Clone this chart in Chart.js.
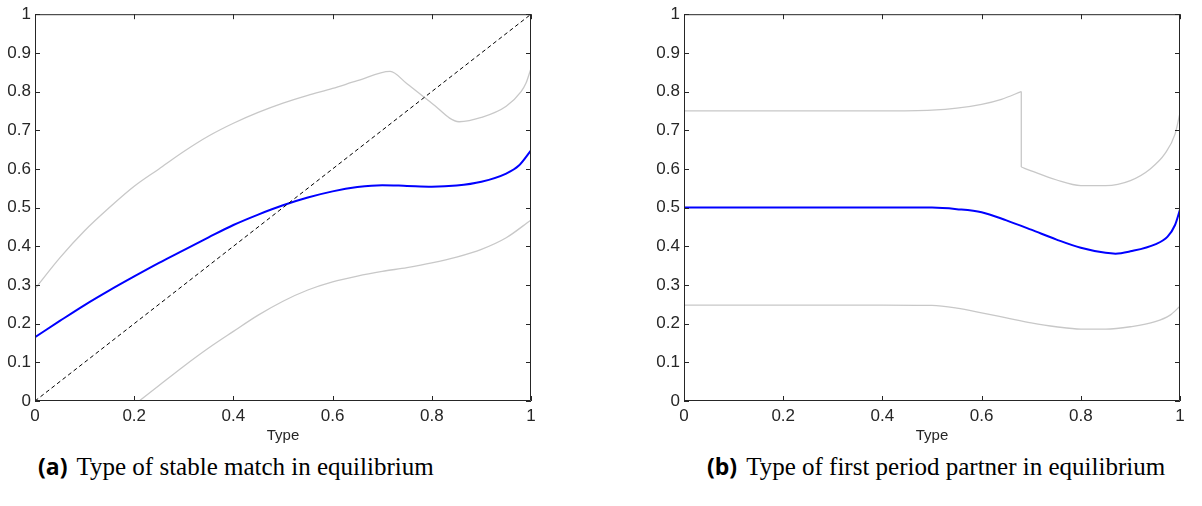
<!DOCTYPE html>
<html>
<head>
<meta charset="utf-8">
<script src="https://cdn.jsdelivr.net/npm/chart.js@4.4.1/dist/chart.umd.min.js"></script>
<style>
  body { margin: 0; background: #fff; width: 1202px; height: 506px; overflow: hidden; position: relative; }
  .panel { position: absolute; top: 0; }
  .cap { position: absolute; top: 450px; white-space: nowrap; color: #000;
         font-family: "Liberation Serif", "DejaVu Serif", serif; font-size: 25px; }
  .cap b { font-family: "Open Sans", "Noto Sans", sans-serif; font-weight: 700; font-size: 23px; margin-right: 9px; }
</style>
</head>
<body>
<canvas id="chartA" class="panel" style="left:0px" width="560" height="445"></canvas>
<canvas id="chartB" class="panel" style="left:649px" width="560" height="445"></canvas>
<div class="cap" style="left:38px"><b>(a)</b>Type of stable match in equilibrium</div>
<div class="cap" style="left:707px"><b>(b)</b>Type of first period partner in equilibrium</div>
<script>
/* ============ DATOS: (a) tipo de pareja estable ============ */
const stableMeanX = [0, 0.05, 0.1, 0.15, 0.2, 0.25, 0.3, 0.35, 0.4, 0.45, 0.5, 0.55, 0.6, 0.65, 0.7, 0.75, 0.8, 0.85, 0.9, 0.95, 0.975, 1];
const stableMeanY = [0.165, 0.207, 0.248, 0.286, 0.322, 0.357, 0.39, 0.423, 0.455, 0.482, 0.506, 0.526, 0.542, 0.553, 0.558, 0.556, 0.554, 0.557, 0.567, 0.588, 0.608, 0.648];

const stableUpperX = [0, 0.05, 0.1, 0.15, 0.2, 0.25, 0.3, 0.35, 0.4, 0.45, 0.5, 0.55, 0.6, 0.65, 0.716, 0.75, 0.8, 0.855, 0.9, 0.95, 0.98, 0.99, 1];
const stableUpperY = [0.29, 0.37, 0.44, 0.5, 0.555, 0.6, 0.645, 0.685, 0.718, 0.746, 0.77, 0.79, 0.808, 0.828, 0.852, 0.82, 0.77, 0.722, 0.733, 0.762, 0.8, 0.822, 0.86];

const stableLowerX = [0.21, 0.25, 0.3, 0.35, 0.4, 0.45, 0.5, 0.55, 0.6, 0.65, 0.7, 0.75, 0.8, 0.85, 0.9, 0.95, 1];
const stableLowerY = [0, 0.04, 0.09, 0.137, 0.18, 0.222, 0.258, 0.287, 0.308, 0.323, 0.335, 0.345, 0.357, 0.372, 0.392, 0.422, 0.468];

const diagonalX = [0, 1];
const diagonalY = [0, 1];

/* ============ DATOS: (b) pareja del primer periodo ============ */
const firstMeanX = [0, 0.1, 0.2, 0.3, 0.4, 0.5, 0.55, 0.6, 0.65, 0.7, 0.75, 0.8, 0.85, 0.87, 0.9, 0.95, 0.975, 0.99, 1];
const firstMeanY = [0.5, 0.5, 0.5, 0.5, 0.5, 0.5, 0.496, 0.488, 0.467, 0.443, 0.418, 0.396, 0.383, 0.381, 0.387, 0.405, 0.425, 0.455, 0.495];

const firstUpperX1 = [0, 0.1, 0.2, 0.3, 0.4, 0.5, 0.55, 0.6, 0.64, 0.68];
const firstUpperY1 = [0.75, 0.75, 0.75, 0.75, 0.75, 0.752, 0.757, 0.767, 0.78, 0.8];
const firstDropX = [0.68, 0.68];
const firstDropY = [0.8, 0.605];
const firstUpperX2 = [0.68, 0.7, 0.75, 0.8, 0.85, 0.9, 0.94, 0.97, 0.99, 1];
const firstUpperY2 = [0.605, 0.595, 0.572, 0.557, 0.557, 0.57, 0.6, 0.64, 0.69, 0.745];

const firstLowerX = [0, 0.1, 0.2, 0.3, 0.4, 0.5, 0.55, 0.6, 0.65, 0.7, 0.75, 0.8, 0.85, 0.9, 0.95, 0.98, 1];
const firstLowerY = [0.248, 0.248, 0.248, 0.248, 0.248, 0.247, 0.24, 0.228, 0.215, 0.202, 0.192, 0.186, 0.186, 0.192, 0.205, 0.222, 0.245];

/* ============ TICKS ============ */
const xTicks = [0, 0.2, 0.4, 0.6, 0.8, 1];
const yTicks = [0, 0.1, 0.2, 0.3, 0.4, 0.5, 0.6, 0.7, 0.8, 0.9, 1];

const AXIS = "#262626";
const BLUE = "#0000ff";
const GRAY = "#c8c8c8";

function pares(xs, ys) {
  return xs.map((x, i) => ({ x: x, y: ys[i] }));
}

function serie(xs, ys, color, width, extra) {
  return Object.assign({
    data: pares(xs, ys),
    borderColor: color,
    borderWidth: width,
    pointRadius: 0,
    fill: false,
    cubicInterpolationMode: "monotone"
  }, extra || {});
}

/* caja con marcas hacia dentro, como en MATLAB */
const cajaPlugin = {
  id: "caja",
  afterDraw(chart) {
    const { ctx, chartArea: a, scales: { x, y } } = chart;
    const tl = 5;
    ctx.save();
    ctx.strokeStyle = AXIS;
    ctx.lineWidth = 1;
    ctx.beginPath();
    ctx.rect(a.left + 0.5, a.top + 0.5, a.right - a.left - 1, a.bottom - a.top - 1);
    xTicks.forEach(v => {
      const px = Math.round(x.getPixelForValue(v)) + 0.5;
      ctx.moveTo(px, a.bottom); ctx.lineTo(px, a.bottom - tl);
      ctx.moveTo(px, a.top); ctx.lineTo(px, a.top + tl);
    });
    yTicks.forEach(v => {
      const py = Math.round(y.getPixelForValue(v)) + 0.5;
      ctx.moveTo(a.left, py); ctx.lineTo(a.left + tl, py);
      ctx.moveTo(a.right, py); ctx.lineTo(a.right - tl, py);
    });
    ctx.stroke();
    ctx.restore();
  }
};

function etiqueta(v) {
  return String(Math.round(v * 10) / 10);
}

function opciones() {
  return {
    responsive: false,
    animation: false,
    devicePixelRatio: 1,
    layout: { padding: { top: 10, right: 29, bottom: 0, left: 0 } },
    plugins: { legend: { display: false }, tooltip: { enabled: false } },
    scales: {
      x: {
        type: "linear", min: 0, max: 1,
        grid: { display: false, drawTicks: false },
        border: { display: false },
        afterBuildTicks: s => { s.ticks = xTicks.map(v => ({ value: v })); },
        afterFit: s => { s.height = 44; },
        ticks: { color: AXIS, padding: 5, maxRotation: 0, font: { family: "Liberation Sans", size: 17 }, callback: etiqueta },
        title: { display: true, text: "Type", color: AXIS, padding: { top: 0, bottom: 0 }, font: { family: "Liberation Sans", size: 15 } }
      },
      y: {
        type: "linear", min: 0, max: 1,
        grid: { display: false, drawTicks: false },
        border: { display: false },
        afterBuildTicks: s => { s.ticks = yTicks.map(v => ({ value: v })); },
        afterFit: s => { s.width = 35; },
        ticks: { color: AXIS, padding: 4, font: { family: "Liberation Sans", size: 17 }, callback: etiqueta }
      }
    }
  };
}

/* ============ GRÁFICA (a) ============ */
new Chart(document.getElementById("chartA"), {
  type: "line",
  data: {
    datasets: [
      serie(diagonalX, diagonalY, "#000000", 1, { borderDash: [4, 3], cubicInterpolationMode: "default", tension: 0 }),
      serie(stableMeanX, stableMeanY, BLUE, 2),
      serie(stableUpperX, stableUpperY, GRAY, 1.3),
      serie(stableLowerX, stableLowerY, GRAY, 1.3)
    ]
  },
  options: opciones(),
  plugins: [cajaPlugin]
});

/* ============ GRÁFICA (b) ============ */
new Chart(document.getElementById("chartB"), {
  type: "line",
  data: {
    datasets: [
      serie(firstMeanX, firstMeanY, BLUE, 2),
      serie(firstUpperX1, firstUpperY1, GRAY, 1.3),
      serie(firstDropX, firstDropY, GRAY, 1.3, { cubicInterpolationMode: "default", tension: 0 }),
      serie(firstUpperX2, firstUpperY2, GRAY, 1.3),
      serie(firstLowerX, firstLowerY, GRAY, 1.3)
    ]
  },
  options: opciones(),
  plugins: [cajaPlugin]
});
</script>
</body>
</html>
